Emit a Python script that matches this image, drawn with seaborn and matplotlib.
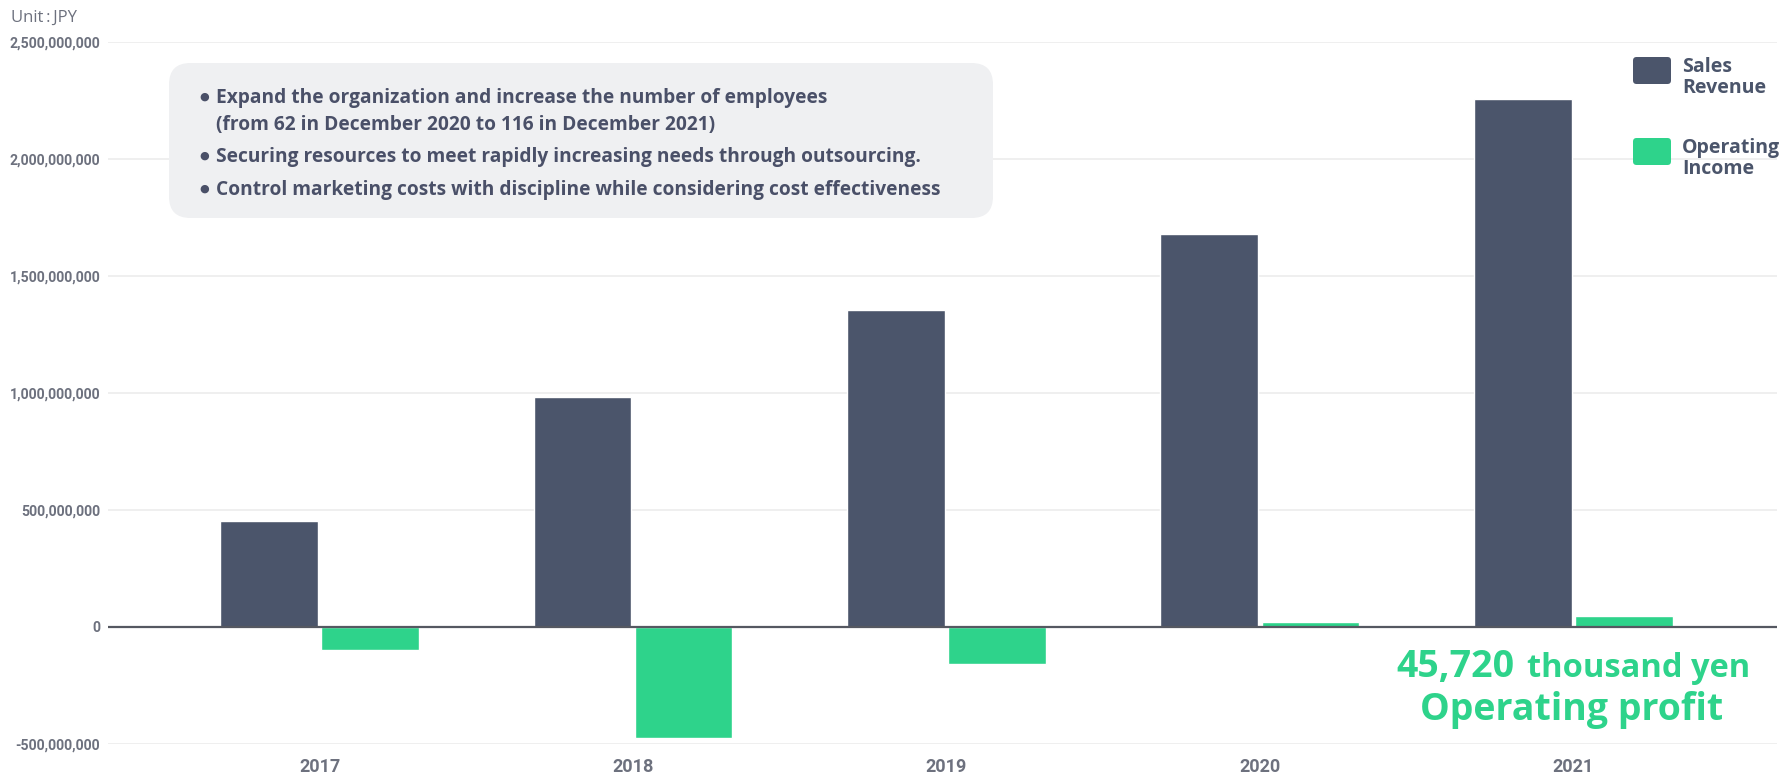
import numpy as np
import pandas as pd
import matplotlib
matplotlib.use("Agg")
import matplotlib.pyplot as plt
import seaborn as sns
from matplotlib.patches import FancyBboxPatch
from matplotlib.ticker import FuncFormatter

# ---- data ----
years = ["2017", "2018", "2019", "2020", "2021"]
sales_revenue = [455e6, 985e6, 1355e6, 1680e6, 2255e6]
operating_income = [-97e6, -476e6, -160e6, 20e6, 45.72e6]
series_names = ["Sales Revenue", "Operating Income"]
legend_lines = [["Sales", "Revenue"], ["Operating", "Income"]]
bullet_lines = [
    "Expand the organization and increase the number of employees",
    "(from 62 in December 2020 to 116 in December 2021)",
    "Securing resources to meet rapidly increasing needs through outsourcing.",
    "Control marketing costs with discipline while considering cost effectiveness",
]
y_ticks = [-500e6, 0, 500e6, 1000e6, 1500e6, 2000e6, 2500e6]

df = pd.DataFrame({
    "year": years * 2,
    "value": sales_revenue + operating_income,
    "series": [series_names[0]] * 5 + [series_names[1]] * 5,
})

SLATE = "#4b556b"
GREEN = "#2ed38b"
TICK = "#6d717e"
TEXT = "#4a5068"

W, H = 1783, 773
fig = plt.figure(figsize=(W / 100, H / 100), dpi=100)
sns.set_style("white")
plt.rcParams["font.family"] = ["Open Sans", "DejaVu Sans", "Noto Sans CJK JP"]

def fx(px):
    return px / W

def fy(py):
    return 1 - py / H

ax = fig.add_axes([fx(108), fy(744), fx(1777) - fx(108), fy(42) - fy(744)])
sns.barplot(data=df, x="year", y="value", hue="series", order=years,
            hue_order=series_names, palette=[SLATE, GREEN], saturation=1,
            width=0.646, gap=0.035, ax=ax, legend=False, zorder=3)

ax.set_ylim(-500e6, 2500e6)
ax.set_xlim(-0.675, 4.65)
ax.set_yticks(y_ticks)
ax.yaxis.set_major_formatter(FuncFormatter(lambda v, p: f"{int(v):,}"))
ax.grid(axis="y", color="#ececec", lw=1.2, zorder=0)
ax.axhline(0, color="#555861", lw=1.6, zorder=4)
for s in ax.spines.values():
    s.set_visible(False)
ax.set_xlabel("")
ax.set_ylabel("")
ax.tick_params(axis="y", length=0, pad=5.5)
ax.tick_params(axis="x", length=0, pad=10)
for lab in ax.get_yticklabels():
    lab.set_fontfamily("Roboto")
    lab.set_fontweight("bold")
    lab.set_fontsize(10.2)
    lab.set_color(TICK)
for lab in ax.get_xticklabels():
    lab.set_fontfamily("Roboto")
    lab.set_fontweight("bold")
    lab.set_fontsize(13)
    lab.set_color(TICK)

# legend, drawn by hand so the swatch sits level with the first text line
for i, (lines, col) in enumerate(zip(legend_lines, [SLATE, GREEN])):
    off = 81 * i
    sw = FancyBboxPatch((fx(1633), fy(84 + off)), fx(1671) - fx(1633), fy(57) - fy(84),
                        boxstyle="round,pad=0,rounding_size=0.002",
                        transform=fig.transFigure, facecolor=col, edgecolor="none",
                        mutation_aspect=W / H)
    fig.add_artist(sw)
    for j, word in enumerate(lines):
        fig.text(fx(1682), fy(72 + off + 21 * j), word, fontsize=14,
                 fontweight="bold", color=SLATE, va="baseline", ha="left")

# unit label
fig.text(fx(11), fy(22), "Unit\u2009:\u2009JPY", fontsize=12, color=TICK, va="baseline")

# note box
box = FancyBboxPatch((fx(169), fy(218)), fx(993) - fx(169), fy(63) - fy(218),
                     boxstyle="round,pad=0,rounding_size=0.012",
                     transform=fig.transFigure, facecolor="#eff0f2",
                     edgecolor="none", zorder=5, mutation_aspect=W / H)
fig.add_artist(box)
line_y = [103, 130, 162, 195]
for i, (txt, yy) in enumerate(zip(bullet_lines, line_y)):
    if i != 1:
        fig.text(fx(199), fy(yy - 6), "\u25cf", fontsize=8, color=TEXT, va="center",
                 ha="left", family="DejaVu Sans", zorder=6)
    fig.text(fx(216), fy(yy), txt, fontsize=13.8, color=TEXT, va="baseline",
             ha="left", fontweight="bold", zorder=6)

# green callout
fig.text(fx(1515), fy(677), "45,720", fontsize=27, color=GREEN,
         fontweight="bold", ha="right", va="baseline")
fig.text(fx(1527), fy(677), "thousand yen", fontsize=23.5, color=GREEN,
         fontweight="bold", ha="left", va="baseline")
fig.text(fx(1572), fy(720), "Operating profit", fontsize=27, color=GREEN,
         fontweight="bold", ha="center", va="baseline")

fig.savefig("out.png", dpi=100)
